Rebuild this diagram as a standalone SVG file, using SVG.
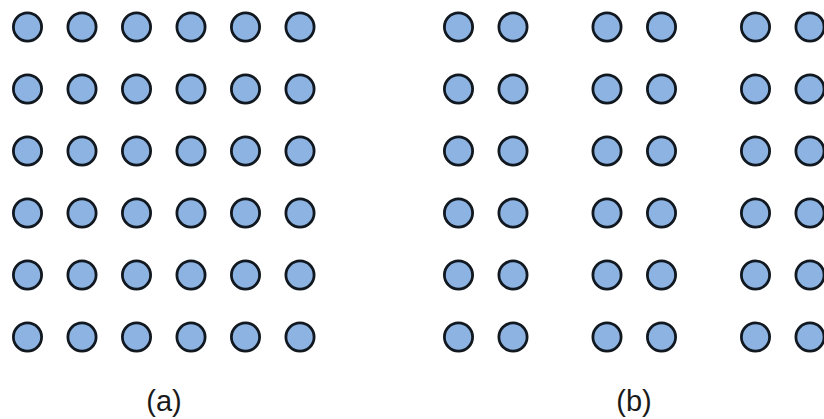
<svg xmlns="http://www.w3.org/2000/svg" width="824" height="419" viewBox="0 0 824 419">
<style>
.d{fill:#8db3e2;stroke:#111820;stroke-width:2.8}
.l{font-family:"Liberation Sans",Arial,sans-serif;font-size:29px;fill:#1a1a1a;text-anchor:middle}
</style>
<defs><circle id="c" r="14.1" class="d"/></defs>
<rect width="824" height="419" fill="#fff"/>
<g id="grid-a">
<g id="a-r1"><use href="#c" x="27.5" y="27"/><use href="#c" x="82" y="27"/><use href="#c" x="136.5" y="27"/><use href="#c" x="191" y="27"/><use href="#c" x="245.5" y="27"/><use href="#c" x="300" y="27"/></g>
<g id="a-r2"><use href="#c" x="27.5" y="89"/><use href="#c" x="82" y="89"/><use href="#c" x="136.5" y="89"/><use href="#c" x="191" y="89"/><use href="#c" x="245.5" y="89"/><use href="#c" x="300" y="89"/></g>
<g id="a-r3"><use href="#c" x="27.5" y="151"/><use href="#c" x="82" y="151"/><use href="#c" x="136.5" y="151"/><use href="#c" x="191" y="151"/><use href="#c" x="245.5" y="151"/><use href="#c" x="300" y="151"/></g>
<g id="a-r4"><use href="#c" x="27.5" y="213"/><use href="#c" x="82" y="213"/><use href="#c" x="136.5" y="213"/><use href="#c" x="191" y="213"/><use href="#c" x="245.5" y="213"/><use href="#c" x="300" y="213"/></g>
<g id="a-r5"><use href="#c" x="27.5" y="275"/><use href="#c" x="82" y="275"/><use href="#c" x="136.5" y="275"/><use href="#c" x="191" y="275"/><use href="#c" x="245.5" y="275"/><use href="#c" x="300" y="275"/></g>
<g id="a-r6"><use href="#c" x="27.5" y="337"/><use href="#c" x="82" y="337"/><use href="#c" x="136.5" y="337"/><use href="#c" x="191" y="337"/><use href="#c" x="245.5" y="337"/><use href="#c" x="300" y="337"/></g>
</g>
<g id="grid-b">
<g id="b-r1"><use href="#c" x="458.5" y="27"/><use href="#c" x="513" y="27"/><use href="#c" x="607" y="27"/><use href="#c" x="661.5" y="27"/><use href="#c" x="755.5" y="27"/><use href="#c" x="810" y="27"/></g>
<g id="b-r2"><use href="#c" x="458.5" y="89"/><use href="#c" x="513" y="89"/><use href="#c" x="607" y="89"/><use href="#c" x="661.5" y="89"/><use href="#c" x="755.5" y="89"/><use href="#c" x="810" y="89"/></g>
<g id="b-r3"><use href="#c" x="458.5" y="151"/><use href="#c" x="513" y="151"/><use href="#c" x="607" y="151"/><use href="#c" x="661.5" y="151"/><use href="#c" x="755.5" y="151"/><use href="#c" x="810" y="151"/></g>
<g id="b-r4"><use href="#c" x="458.5" y="213"/><use href="#c" x="513" y="213"/><use href="#c" x="607" y="213"/><use href="#c" x="661.5" y="213"/><use href="#c" x="755.5" y="213"/><use href="#c" x="810" y="213"/></g>
<g id="b-r5"><use href="#c" x="458.5" y="275"/><use href="#c" x="513" y="275"/><use href="#c" x="607" y="275"/><use href="#c" x="661.5" y="275"/><use href="#c" x="755.5" y="275"/><use href="#c" x="810" y="275"/></g>
<g id="b-r6"><use href="#c" x="458.5" y="337"/><use href="#c" x="513" y="337"/><use href="#c" x="607" y="337"/><use href="#c" x="661.5" y="337"/><use href="#c" x="755.5" y="337"/><use href="#c" x="810" y="337"/></g>
</g>
<g id="labels">
<text class="l" x="164" y="411">(a)</text>
<text class="l" x="634" y="411">(b)</text>
</g>
</svg>
